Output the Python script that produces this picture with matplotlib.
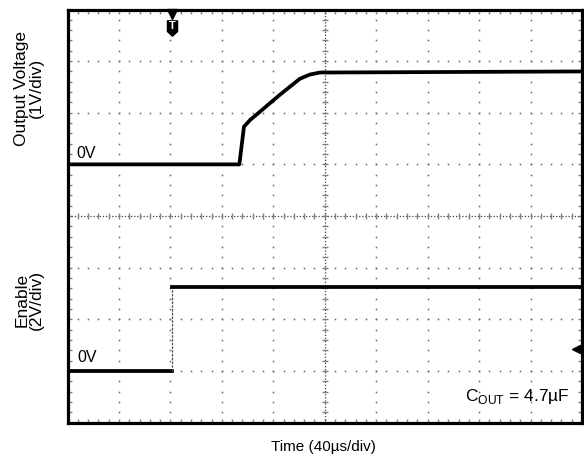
import numpy as np
import matplotlib
matplotlib.use("Agg")
import matplotlib.pyplot as plt
from matplotlib.path import Path

plt.rcParams['font.family'] = ['Liberation Sans', 'DejaVu Sans']

# Scope settings
TIME_PER_DIV = 40.0      # µs/div
OUT_PER_DIV = 1.0        # V/div (output voltage channel)
EN_PER_DIV = 2.0         # V/div (enable channel)
OUT_ZERO_DIV = 5.0       # screen position of output 0 V
EN_ZERO_DIV = 1.0        # screen position of enable 0 V

# Output voltage trace (time from left edge in µs, volts)
out_t = [0, 133.6, 137.2, 142.0, 149.6, 157.6, 165.2, 173.2, 180.8, 188.4, 196.4, 206.4, 400]
out_v = [0.0, 0.0, 0.73, 0.86, 1.02, 1.19, 1.35, 1.51, 1.66, 1.74, 1.78, 1.78, 1.80]

# Enable trace
en_t = [0, 81.2, 81.2, 400]
en_v = [0.0, 0.0, 3.24, 3.24]

trig_t = 81.2            # trigger position
trig_level_v = 0.85      # enable trigger level

W, H = 584, 462
fig = plt.figure(figsize=(W / 100, H / 100), dpi=100)
L, R, T, B = 67.5, 582.0, 9.5, 422.5
ax = fig.add_axes([L / W, 1 - B / H, (R - L) / W, (B - T) / H])
ax.set_xlim(0, 10)
ax.set_ylim(0, 8)
for s in ax.spines.values():
    s.set_linewidth(2.3)
    s.set_color('black')

# border ticks every 0.2 div
ax.set_xticks([])
ax.set_yticks([])
ax.set_xticks(np.arange(0, 10.001, 0.2), minor=True)
ax.set_yticks(np.arange(0, 8.001, 0.2), minor=True)
ax.tick_params(which='minor', direction='in', length=3, width=1.0, color='0.5',
               top=True, right=True, labelbottom=False, labelleft=False)

# dotted graticule
grid_col = '0.4'
for gx in range(1, 10):
    if gx == 5:
        continue
    ys = np.arange(0.2, 8.0, 0.2)
    ax.plot(np.full_like(ys, gx), ys, ls='none', marker='s', ms=1.1, mec='none', mfc=grid_col)
for gy in range(1, 8):
    if gy == 4:
        continue
    xs = np.arange(0.2, 10.0, 0.2)
    ax.plot(xs, np.full_like(xs, gy), ls='none', marker='s', ms=1.1, mec='none', mfc=grid_col)

# centre crosshair with minor ticks
ax.axvline(5, color='0.25', lw=0.9, ls=(0, (1, 1.5)))
ax.axhline(4, color='0.25', lw=0.9, ls=(0, (1, 1.5)))
cy = np.arange(0.2, 8.0, 0.2)
ax.plot(np.full_like(cy, 5), cy, ls='none', marker='_', ms=5, mew=1.0, color='0.5')
cx = np.arange(0.2, 10.0, 0.2)
ax.plot(cx, np.full_like(cx, 4), ls='none', marker='|', ms=5, mew=1.0, color='0.5')

# traces
tw = 2.7
ox = np.array(out_t) / TIME_PER_DIV
oy = OUT_ZERO_DIV + np.array(out_v) / OUT_PER_DIV
ax.plot(ox, oy, color='black', lw=tw, solid_joinstyle='round')

ex = np.array(en_t) / TIME_PER_DIV
ey = EN_ZERO_DIV + np.array(en_v) / EN_PER_DIV
ax.plot(ex[:2], ey[:2], color='black', lw=tw)
ax.plot(ex[1:3], ey[1:3], color='0.3', lw=0.9, ls=(0, (2, 1)))
ax.plot(ex[2:], ey[2:], color='black', lw=tw)

# trigger markers
tx = trig_t / TIME_PER_DIV
ax.plot([tx], [7.92], marker='v', ms=7, color='black', clip_on=False)
shield = Path([(-0.33, 0.5), (0.33, 0.5), (0.33, -0.2), (0.0, -0.5), (-0.33, -0.2), (-0.33, 0.5)],
              [Path.MOVETO] + [Path.LINETO] * 4 + [Path.CLOSEPOLY])
ax.plot([tx], [7.65], marker=shield, ms=11, color='black')
ax.text(tx, 7.675, 'T', color='white', fontsize=8, fontweight='bold', ha='center', va='center')
ax.plot([9.89], [EN_ZERO_DIV + trig_level_v / EN_PER_DIV], marker='<', ms=6, color='black')

# labels
ax.text(0.18, 5.12, '0V', fontsize=11.5, ha='left', va='baseline')
ax.text(0.185, 1.17, '0V', fontsize=11.5, ha='left', va='baseline')
ax.text(9.77, 0.42, r'C$_\mathregular{OUT}$ = 4.7µF', fontsize=12.5, ha='right', va='baseline')

fig.text(29 / W, 1 - 88 / H, 'Output Voltage\n(1V/div)', rotation=90, fontsize=12.5,
         ha='center', va='center', multialignment='center', linespacing=0.95)
fig.text(29 / W, 1 - 300 / H, 'Enable\n(2V/div)', rotation=90, fontsize=12.5,
         ha='center', va='center', multialignment='center', linespacing=0.95)
fig.text(323 / W, 1 - 451 / H, 'Time (40µs/div)', fontsize=11, ha='center', va='baseline')

fig.savefig('out.png', dpi=100)
